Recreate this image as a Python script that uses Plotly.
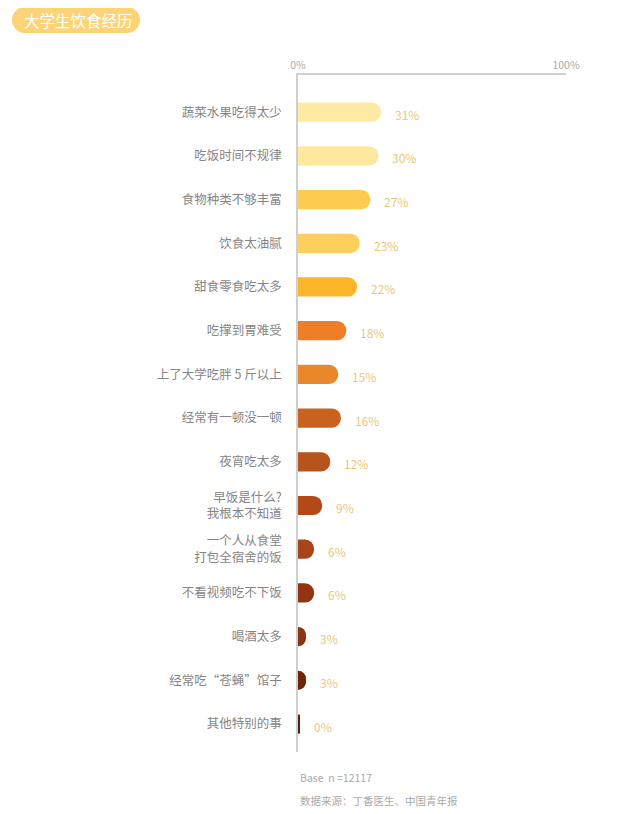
import plotly.graph_objects as go

categories = ["蔬菜水果吃得太少", "吃饭时间不规律", "食物种类不够丰富", "饮食太油腻",
              "甜食零食吃太多", "吃撑到胃难受", "上了大学吃胖 5 斤以上", "经常有一顿没一顿",
              "夜宵吃太多", "早饭是什么?<br>我根本不知道", "一个人从食堂<br>打包全宿舍的饭",
              "不看视频吃不下饭", "喝酒太多", "经常吃“苍蝇”馆子", "其他特别的事"]
values = [31, 30, 27, 23, 22, 18, 15, 16, 12, 9, 6, 6, 3, 3, 0.6]
value_labels = ["31%", "30%", "27%", "23%", "22%", "18%", "15%", "16%", "12%", "9%",
                "6%", "6%", "3%", "3%", "0%"]
colors = ["#FEEAA4", "#FEE89E", "#FDCB4F", "#FECF5C", "#FDB52A", "#EE7F28", "#E9872B",
          "#C9621F", "#B7541B", "#B24A17", "#A8431A", "#923412", "#8A3414", "#6E270D", "#5C1F0B"]
axis_ticks = [0, 100]
axis_ticktext = ["0%", "100%"]
title_text = "大学生饮食经历"
footer_base = "Base  n =12117"
footer_source = "数据来源：丁香医生、中国青年报"

FONT = "Noto Sans CJK SC, Noto Sans, sans-serif"

# page body has an 8px margin; work in figure pixels = screen pixels - 8
OFF = 8
W, H = 640 - OFF, 814 - OFF
PL, PR, PT, PB = 298 - OFF, 566 - OFF, 75 - OFF, 752 - OFF
PW, PH = PR - PL, PB - PT

fig = go.Figure()
fig.add_trace(go.Bar(
    x=values, y=categories, orientation="h",
    marker=dict(color=colors, line=dict(width=0)),
    hoverinfo="skip",
))

for cat, v, lab in zip(categories, values, value_labels):
    fig.add_annotation(x=v, y=cat, xref="x", yref="y", text=lab, showarrow=False,
                       xanchor="left", yanchor="middle", xshift=12, yshift=-2,
                       font=dict(family=FONT, size=12, color="#EBC878"))

# title pill (decoration), pixel-sized path anchored at top-left of plot area
x0, x1, y0, y1, r = 12 - OFF, 140 - OFF, 7 - OFF, 33 - OFF, 13
def P(px, py):
    return f"{px - PL},{PT - py}"
k = 0.552 * r
path = (f"M{P(x0 + r, y0)} L{P(x1 - r, y0)} "
        f"C{P(x1 - r + k, y0)} {P(x1, y0 + r - k)} {P(x1, y0 + r)} "
        f"C{P(x1, y0 + r + k)} {P(x1 - r + k, y1)} {P(x1 - r, y1)} "
        f"L{P(x0 + r, y1)} "
        f"C{P(x0 + r - k, y1)} {P(x0, y0 + r + k)} {P(x0, y0 + r)} "
        f"C{P(x0, y0 + r - k)} {P(x0 + r - k, y0)} {P(x0 + r, y0)} Z")
fig.add_shape(type="path", path=path, xref="paper", yref="paper",
              xsizemode="pixel", ysizemode="pixel", xanchor=0, yanchor=1,
              fillcolor="#FCD477", line=dict(width=0), layer="above")

def px_x(px):
    return (px - OFF - PL) / PW
def px_y(py):
    return (PB - (py - OFF)) / PH

fig.add_annotation(x=px_x(22), y=px_y(20), xref="paper", yref="paper",
                   text=title_text, showarrow=False, xanchor="left", yanchor="middle",
                   font=dict(family=FONT, size=15.5, color="#FFFFFF"))

fig.add_annotation(x=0, y=px_y(777), xref="paper", yref="paper", text=footer_base,
                   showarrow=False, xanchor="left", yanchor="middle",
                   font=dict(family=FONT, size=10.5, color="#AAAAAA"))
fig.add_annotation(x=0, y=px_y(800), xref="paper", yref="paper", text=footer_source,
                   showarrow=False, xanchor="left", yanchor="middle",
                   font=dict(family=FONT, size=10.5, color="#AAAAAA"))

fig.update_layout(
    width=W, height=H,
    margin=dict(l=PL, r=W - PR, t=PT, b=H - PB),
    paper_bgcolor="white", plot_bgcolor="white",
    bargap=0.56, barcornerradius=10,
    showlegend=False,
    xaxis=dict(range=[0, 100], side="top", showline=True, linecolor="#CFCFCF", linewidth=1.5,
               showgrid=False, zeroline=False, tickvals=axis_ticks, ticktext=axis_ticktext,
               ticks="inside", ticklen=10, tickcolor="#CFCFCF", tickwidth=1.5,
               tickfont=dict(family=FONT, size=10.5, color="#AAAAAA"), fixedrange=True),
    yaxis=dict(categoryorder="array", categoryarray=categories, range=[14.64, -0.85],
               showline=True, linecolor="#CFCFCF", linewidth=1.5, showgrid=False,
               zeroline=False, ticks="", ticklabelstandoff=12,
               tickfont=dict(family=FONT, size=12.5, color="#858585"), fixedrange=True),
)

fig.write_html("out.html")
